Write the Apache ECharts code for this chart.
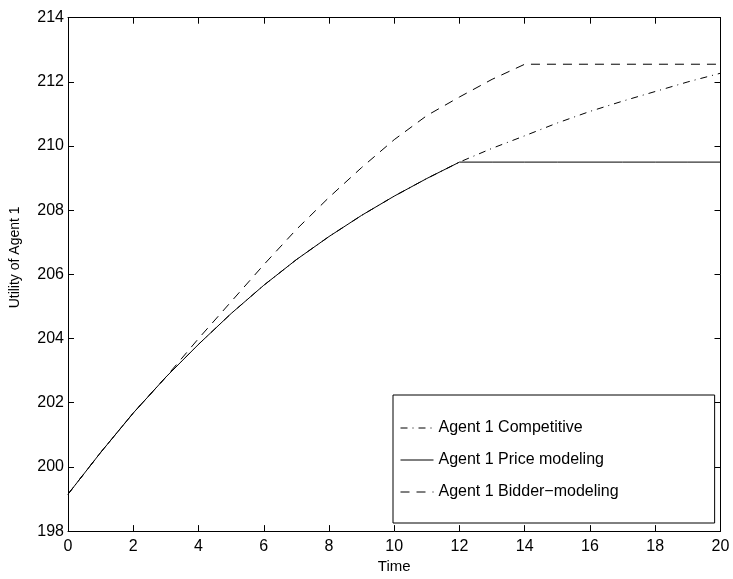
<!DOCTYPE html>
<html>
<head>
<meta charset="utf-8">
<script src="https://cdn.jsdelivr.net/npm/echarts@6/dist/echarts.min.js"></script>
<style>
  html, body { margin: 0; padding: 0; background: #fff; }
  #chart { width: 733px; height: 579px; }
</style>
</head>
<body>
<div id="chart"></div>
<script>
// time steps and utility values
const timeSteps = [0, 1, 2, 3, 4, 5, 6, 7, 8, 9, 10, 11, 12, 13, 14, 15, 16, 17, 18, 19, 20]
const competitive = [199.15, 200.45, 201.68, 202.8, 203.82, 204.78, 205.66, 206.46, 207.18, 207.84, 208.44, 208.99, 209.5,
  209.93, 210.32, 210.72, 211.08, 211.4, 211.7, 212.0, 212.27]
const priceModeling = [199.15, 200.45, 201.68, 202.8, 203.82, 204.78, 205.66, 206.46, 207.18, 207.84, 208.44, 208.99, 209.5,
  209.5, 209.5, 209.5, 209.5, 209.5, 209.5, 209.5, 209.5]
const bidderModeling = [199.15, 200.45, 201.68, 202.8, 204.0, 205.15, 206.3, 207.4, 208.4, 209.33, 210.2, 210.95, 211.53,
  212.08, 212.55, 212.55, 212.55, 212.55, 212.55, 212.55, 212.55]
const seriesNames = ['Agent 1 Competitive', 'Agent 1 Price modeling', 'Agent 1 Bidder\u2212modeling']

const font = 'Liberation Sans, Arial, Helvetica, sans-serif'
const pairs = (vals) => timeSteps.map((t, i) => [t, vals[i]])

const chart = echarts.init(document.getElementById('chart'), null, { renderer: 'canvas' })

// shared axis look (matlab style: ticks inside, black lines)
const axisBase = {
  type: 'value',
  axisLine: { show: true, onZero: false, lineStyle: { color: '#000', width: 1 } },
  axisTick: { show: true, inside: true, length: 6, lineStyle: { color: '#000', width: 1 } },
  splitLine: { show: false }
}

const line = (name, vals, type) => ({
  name: name,
  type: 'line',
  data: pairs(vals),
  symbol: 'none',
  showSymbol: false,
  smooth: false,
  animation: false,
  lineStyle: { color: '#000', width: 1, type: type },
  itemStyle: { color: '#000' }
})

chart.setOption({
  backgroundColor: '#fff',
  grid: { left: 67.5, right: 12.5, top: 17.7, bottom: 46.3 },
  legend: {
    orient: 'vertical',
    left: 393,
    top: 395,
    data: seriesNames,
    itemWidth: 33,
    itemHeight: 14,
    itemGap: 16,
    padding: [25, 96, 23, 7],
    borderColor: '#000',
    borderWidth: 1,
    backgroundColor: '#fff',
    itemStyle: { opacity: 0 },
    lineStyle: { width: 1 },
    textStyle: { fontFamily: font, fontSize: 16, color: '#000' }
  },
  xAxis: [
    Object.assign({}, axisBase, {
      min: 0, max: 20, interval: 2,
      position: 'bottom',
      name: 'Time',
      nameLocation: 'middle',
      nameGap: 25,
      nameTextStyle: { fontFamily: font, fontSize: 15, color: '#000' },
      axisLabel: { fontFamily: font, fontSize: 16, color: '#000', margin: 7 }
    }),
    Object.assign({}, axisBase, {
      min: 0, max: 20, interval: 2,
      position: 'top',
      axisLabel: { show: false }
    })
  ],
  yAxis: [
    Object.assign({}, axisBase, {
      min: 198, max: 214, interval: 2,
      position: 'left',
      name: 'Utility of Agent 1',
      nameLocation: 'middle',
      nameGap: 46,
      nameTextStyle: { fontFamily: font, fontSize: 14, color: '#000', padding: [0, 0, 0, 34] },
      axisLabel: { fontFamily: font, fontSize: 16, color: '#000', margin: 4 }
    }),
    Object.assign({}, axisBase, {
      min: 198, max: 214, interval: 2,
      position: 'right',
      axisLabel: { show: false }
    })
  ],
  series: [
    line(seriesNames[0], competitive, [7, 5, 1, 5]),
    line(seriesNames[1], priceModeling, 'solid'),
    line(seriesNames[2], bidderModeling, [9, 7])
  ]
})
</script>
</body>
</html>
